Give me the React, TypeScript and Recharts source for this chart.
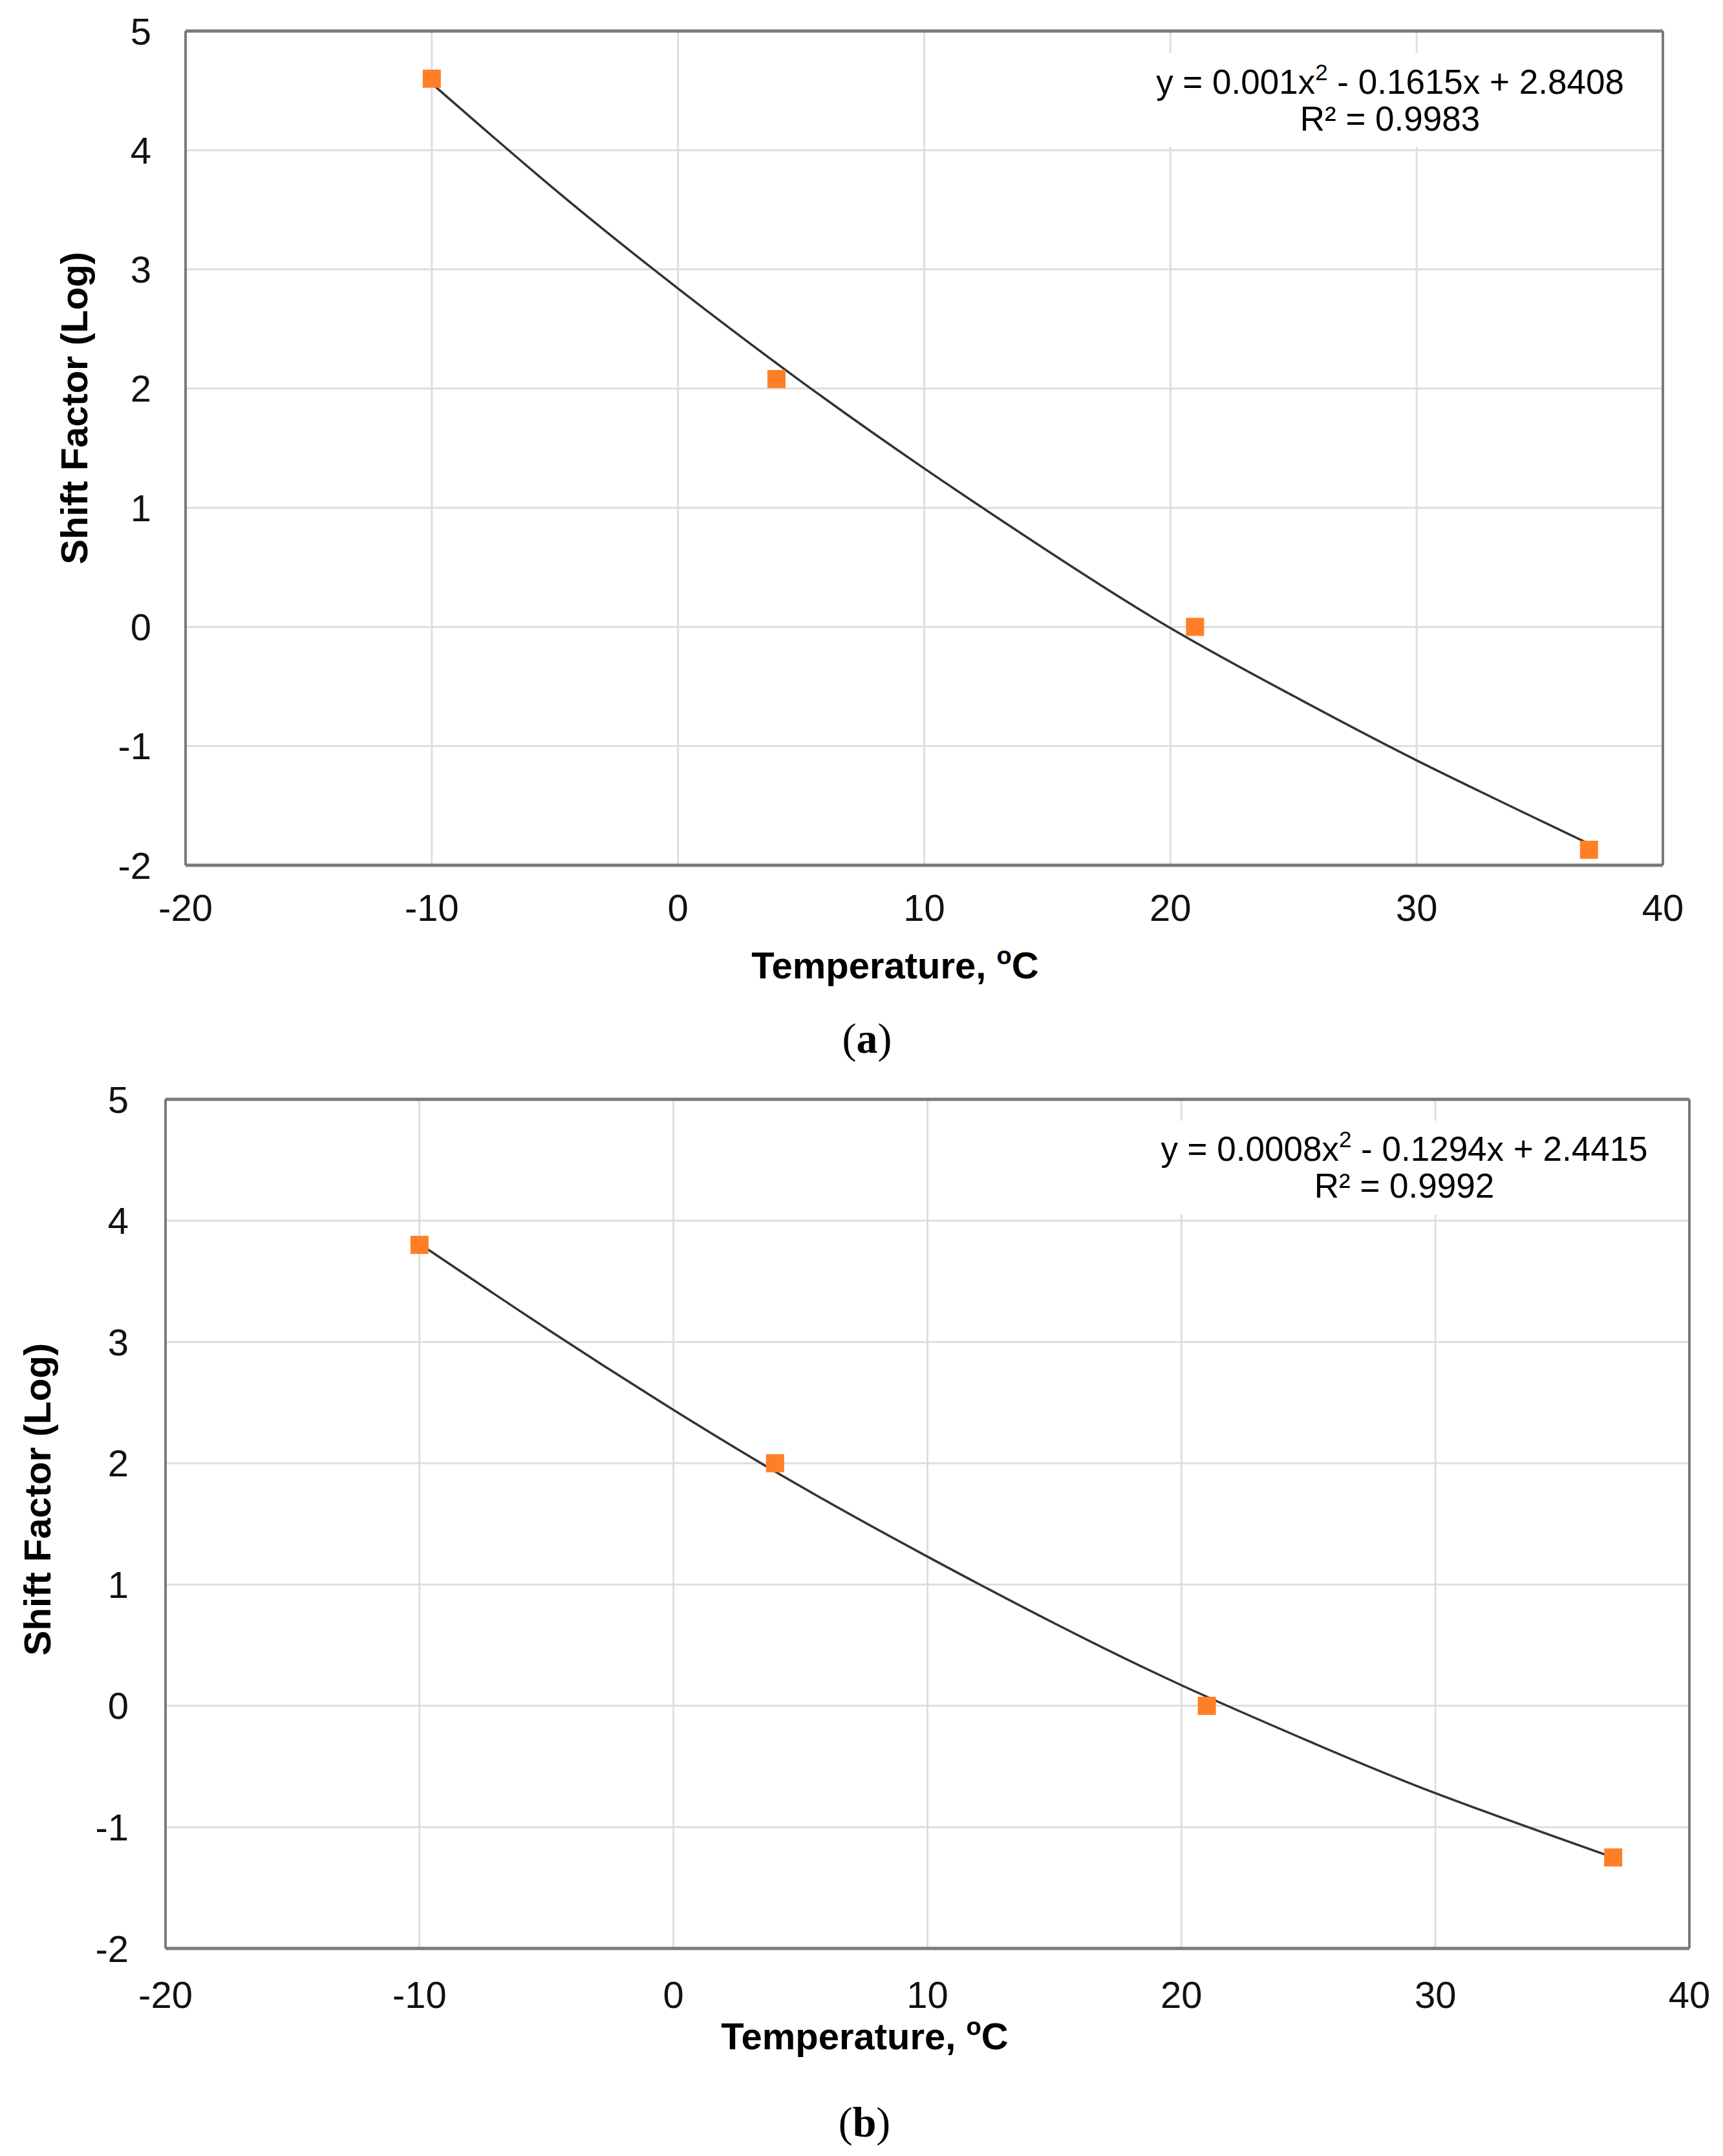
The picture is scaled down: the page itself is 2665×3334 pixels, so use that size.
import React from 'react';
import {
  ComposedChart,
  Scatter,
  Line,
  XAxis,
  YAxis,
  CartesianGrid,
  ReferenceLine,
  Label,
} from 'recharts';

// measured temperatures (°C) and log shift factors
const tempA = [-10, 4, 21, 37];
const shiftA = [4.6, 2.08, 0.0, -1.87];
const tempB = [-10, 4, 21, 37];
const shiftB = [3.8, 2.0, 0.0, -1.25];

// polynomial trendline
const trendX = [-10, -5, 0, 5, 10, 15, 20, 25, 30, 37];
const trendYA = [4.56, 3.67, 2.84, 2.06, 1.33, 0.64, -0.01, -0.58, -1.12, -1.82];
const trendYB = [3.81, 3.11, 2.44, 1.81, 1.23, 0.68, 0.17, -0.29, -0.72, -1.25];

const xTicks = [-20, -10, 0, 10, 20, 30, 40];
const yTicks = [-2, -1, 0, 1, 2, 3, 4, 5];

const FONT = "'Liberation Sans', Arial, Helvetica, sans-serif";
const SERIF = "'Liberation Serif', 'Times New Roman', serif";
const ORANGE = '#FF7F27';
const BORDER = '#7a7a7a';
const GRID = '#dedede';

const toPoints = (xs: number[], ys: number[]) => xs.map((x, i) => ({ x, y: ys[i] }));

const Square = (props: any) => {
  const { cx, cy } = props;
  if (cx == null || cy == null) return null;
  return <rect x={cx - 14} y={cy - 14} width={28} height={28} fill={ORANGE} />;
};

interface ChartProps {
  points: { x: number; y: number }[];
  trend: { x: number; y: number }[];
  margin: { top: number; right: number; bottom: number; left: number };
  height: number;
  yTickGap: number;
  xTickGap: number;
  xLabel: { dx: number; dy: number };
  yLabel: { dx: number; dy: number };
}

const ShiftChart: React.FC<ChartProps> = ({ points, trend, margin, height, yTickGap, xTickGap, xLabel, yLabel }) => {
  const renderXLabel = (props: any) => {
    const vb = props.viewBox || {};
    return (
      <text
        x={vb.x + vb.width / 2 + xLabel.dx}
        y={vb.y + xLabel.dy}
        textAnchor="middle"
        fontFamily={FONT}
        fontSize={58}
        fontWeight={700}
        fill="#000"
      >
        Temperature,{' '}
        <tspan dy={-22} fontSize={38}>o</tspan>
        <tspan dy={22}>C</tspan>
      </text>
    );
  };

  const renderYLabel = (props: any) => {
    const vb = props.viewBox || {};
    const cx = vb.x + yLabel.dx;
    const cy = vb.y + vb.height / 2 + yLabel.dy;
    return (
      <text
        x={cx}
        y={cy}
        transform={`rotate(-90, ${cx}, ${cy})`}
        textAnchor="middle"
        dominantBaseline="central"
        fontFamily={FONT}
        fontSize={58}
        fontWeight={700}
        fill="#000"
      >
        Shift Factor (Log)
      </text>
    );
  };

  return (
    <ComposedChart width={2665} height={height} margin={margin}>
      <CartesianGrid stroke={GRID} strokeWidth={3} />
      <XAxis
        type="number"
        dataKey="x"
        domain={[-20, 40]}
        ticks={xTicks}
        interval={0}
        tickSize={0}
        tickMargin={xTickGap}
        height={100}
        axisLine={{ stroke: BORDER, strokeWidth: 5 }}
        tickLine={false}
        tick={{ fontSize: 58, fill: '#111', fontFamily: FONT }}
      >
        <Label content={renderXLabel} />
      </XAxis>
      <YAxis
        type="number"
        dataKey="y"
        domain={[-2, 5]}
        ticks={yTicks}
        interval={0}
        tickSize={0}
        tickMargin={yTickGap}
        width={200}
        axisLine={{ stroke: BORDER, strokeWidth: 4 }}
        tickLine={false}
        tick={{ fontSize: 58, fill: '#111', fontFamily: FONT }}
      >
        <Label content={renderYLabel} />
      </YAxis>
      <ReferenceLine y={5} stroke={BORDER} strokeWidth={5} />
      <ReferenceLine x={40} stroke={BORDER} strokeWidth={4} />
      <Scatter data={points} shape={<Square />} isAnimationActive={false} />
      <Line
        data={trend}
        dataKey="y"
        type="natural"
        stroke="#333333"
        strokeWidth={3.5}
        dot={false}
        activeDot={false}
        isAnimationActive={false}
      />
    </ComposedChart>
  );
};

const Equation: React.FC<{ cx: number; base: number; a: string; rest: string; r2: string }> = ({ cx, base, a, rest, r2 }) => (
  <g fontFamily={FONT} fontSize={53} fill="#000" textAnchor="middle">
    <text x={cx} y={base}>
      {a}
      <tspan dy={-21} fontSize={35}>2</tspan>
      <tspan dy={21}>{rest}</tspan>
    </text>
    <text x={cx} y={base + 57}>{r2}</text>
  </g>
);

const Caption: React.FC<{ cx: number; base: number; letter: string }> = ({ cx, base, letter }) => (
  <text x={cx} y={base} textAnchor="middle" fontFamily={SERIF} fontSize={66} fill="#000">
    (<tspan fontWeight={700}>{letter}</tspan>)
  </text>
);

export default function App() {
  return (
    <div style={{ position: 'absolute', left: 0, top: 0, width: 2665, height: 3334, background: '#fff' }}>
      <div style={{ position: 'absolute', left: 0, top: 0 }}>
        <ShiftChart
          points={toPoints(tempA, shiftA)}
          trend={toPoints(trendX, trendYA)}
          height={1560}
          margin={{ top: 48, right: 93, bottom: 122, left: 87 }}
          yTickGap={53}
          xTickGap={45}
          xLabel={{ dx: -45, dy: 175 }}
          yLabel={{ dx: 27, dy: -62 }}
        />
      </div>
      <div style={{ position: 'absolute', left: 0, top: 1600 }}>
        <ShiftChart
          points={toPoints(tempB, shiftB)}
          trend={toPoints(trendX, trendYB)}
          height={1640}
          margin={{ top: 100, right: 52, bottom: 127, left: 56 }}
          yTickGap={57}
          xTickGap={51}
          xLabel={{ dx: -97, dy: 156 }}
          yLabel={{ dx: 1, dy: -38 }}
        />
      </div>
      <svg
        width={2665}
        height={3334}
        style={{ position: 'absolute', left: 0, top: 0, pointerEvents: 'none' }}
      >
        <rect x={1770} y={82} width={770} height={145} fill="#fff" />
        <Equation cx={2150} base={145} a="y = 0.001x" rest=" - 0.1615x + 2.8408" r2="R² = 0.9983" />
        <rect x={1765} y={1733} width={815} height={145} fill="#fff" />
        <Equation cx={2172} base={1795} a="y = 0.0008x" rest=" - 0.1294x + 2.4415" r2="R² = 0.9992" />
        <Caption cx={1341} base={1628} letter="a" />
        <Caption cx={1337} base={3304} letter="b" />
      </svg>
    </div>
  );
}
